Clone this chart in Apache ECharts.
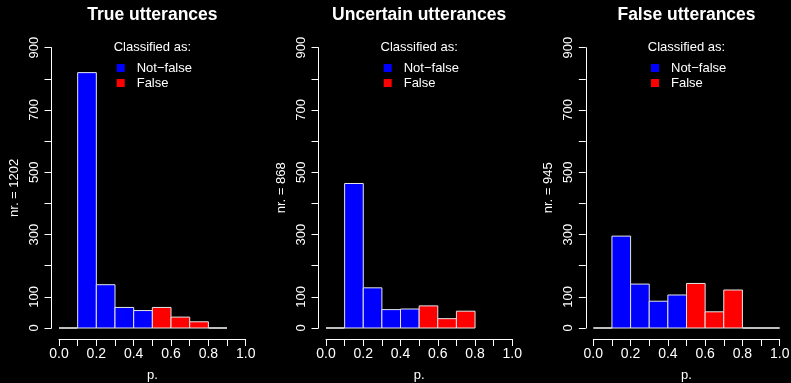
<!DOCTYPE html>
<html><head><meta charset="utf-8">
<script src="https://cdn.jsdelivr.net/npm/echarts@6/dist/echarts.min.js"></script>
<style>html,body{margin:0;padding:0;background:#000;}#c{width:791px;height:383px;}</style>
</head><body><div id="c"></div>
<script>
// ---- data ----
const panelTitles = ['True utterances', 'Uncertain utterances', 'False utterances'];
const panelTotals = [1202, 868, 945];
const binEdges = [0.0, 0.1, 0.2, 0.3, 0.4, 0.5, 0.6, 0.7, 0.8, 0.9, 1.0];
const trueCounts = [0, 820, 139, 66, 56, 66, 35, 20, 0];
const uncertainCounts = [0, 464, 129, 59, 61, 71, 30, 54];
const falseCounts = [0, 295, 141, 86, 106, 143, 52, 122, 0, 0];
const falseThreshold = 0.5;
const legendNames = ['Not\u2212false', 'False'];
const legendTitle = 'Classified as:';
const xTickLabels = ['0.0', '0.2', '0.4', '0.6', '0.8', '1.0'];
const yTickLabels = [0, 100, 300, 500, 700, 900];
const xLabel = 'p.';

// ---- layout ----
const FONT = '"Liberation Sans", Arial, Helvetica, sans-serif';
const grids = [
  {left: 59, top: 47.7, width: 186.7, height: 280.3, outerBoundsMode: 'none', containLabel: false},
  {left: 326, top: 47.7, width: 186.3, height: 280.3, outerBoundsMode: 'none', containLabel: false},
  {left: 593.3, top: 47.7, width: 186.4, height: 280.3, outerBoundsMode: 'none', containLabel: false}
];
const allCounts = [trueCounts, uncertainCounts, falseCounts];

function renderBar(params, api) {
  const x0 = api.value(0), x1 = api.value(1), c = api.value(2);
  const p0 = api.coord([x0, c]);
  const p1 = api.coord([x1, 0]);
  if (c === 0) {
    return {type: 'line', shape: {x1: p0[0], y1: p1[1], x2: p1[0], y2: p1[1]},
      style: {stroke: '#ffffff', lineWidth: 1.5}};
  }
  return {type: 'rect',
    shape: {x: p0[0], y: p0[1], width: p1[0] - p0[0], height: p1[1] - p0[1]},
    style: {fill: api.visual('color'), stroke: '#e6e6e6', lineWidth: 1}};
}

const xAxes = [], yAxes = [], series = [], legends = [], graphics = [];
grids.forEach((g, i) => {
  xAxes.push({
    type: 'value', gridIndex: i, min: 0, max: 1, interval: 0.1, offset: 11,
    name: xLabel, nameLocation: 'middle', nameGap: 30,
    nameTextStyle: {color: '#fff', fontSize: 13, fontFamily: FONT},
    axisLine: {show: true, onZero: false, lineStyle: {color: '#fff', width: 1}},
    axisTick: {show: true, length: 7, lineStyle: {color: '#fff'}},
    splitLine: {show: false},
    axisLabel: {color: '#fff', fontSize: 14, fontFamily: FONT, margin: 8, showMinLabel: true, showMaxLabel: true,
      formatter: v => { const s = v.toFixed(1); return xTickLabels.includes(s) ? s : ''; }}
  });
  yAxes.push({
    type: 'value', gridIndex: i, min: 0, max: 900, interval: 100, offset: 7.5,
    name: 'nr. = ' + panelTotals[i], nameLocation: 'middle', nameGap: 31, nameRotate: 90,
    nameTextStyle: {color: '#fff', fontSize: 13, fontFamily: FONT},
    axisLine: {show: true, onZero: false, lineStyle: {color: '#fff', width: 1}},
    axisTick: {show: true, length: 7, lineStyle: {color: '#fff'}},
    splitLine: {show: false},
    axisLabel: {color: '#fff', fontSize: 13, fontFamily: FONT, rotate: 90, margin: 11,
      formatter: v => yTickLabels.includes(Math.round(v)) ? String(Math.round(v)) : ''}
  });
  const counts = allCounts[i];
  const blue = [], red = [], empty = [];
  counts.forEach((c, k) => {
    const item = [binEdges[k], binEdges[k + 1], c];
    if (c === 0) empty.push(item);
    else if (binEdges[k] >= falseThreshold - 1e-9) red.push(item);
    else blue.push(item);
  });
  const common = {type: 'custom', xAxisIndex: i, yAxisIndex: i, renderItem: renderBar,
    encode: {x: [0, 1], y: 2}, silent: true, animation: false, clip: false};
  series.push(Object.assign({name: 'empty', data: empty, itemStyle: {color: '#000'}}, common));
  series.push(Object.assign({name: legendNames[0], data: blue, itemStyle: {color: '#0000ff'}}, common));
  series.push(Object.assign({name: legendNames[1], data: red, itemStyle: {color: '#ff0000'}}, common));
  legends.push({
    data: legendNames, orient: 'vertical', left: g.left + 57.7, top: 61.5, padding: 0,
    itemWidth: 8, itemHeight: 8, itemGap: 2, icon: 'rect', selectedMode: false,
    textStyle: {color: '#fff', fontSize: 13, fontFamily: FONT, padding: [0, 0, 0, 7]}
  });
  const cx = g.left + g.width / 2;
  graphics.push({type: 'text', x: cx, y: 15, style: {text: panelTitles[i], fill: '#fff',
    font: 'bold 17.5px ' + FONT, textAlign: 'center', textVerticalAlign: 'middle'}});
  graphics.push({type: 'text', x: cx, y: 47.7, style: {text: legendTitle, fill: '#fff',
    font: '13px ' + FONT, textAlign: 'center', textVerticalAlign: 'middle'}});
});

const chart = echarts.init(document.getElementById('c'), null, {renderer: 'canvas'});
chart.setOption({
  backgroundColor: '#000',
  animation: false,
  grid: grids,
  xAxis: xAxes,
  yAxis: yAxes,
  legend: legends,
  graphic: graphics,
  series: series
});
</script>
</body></html>
